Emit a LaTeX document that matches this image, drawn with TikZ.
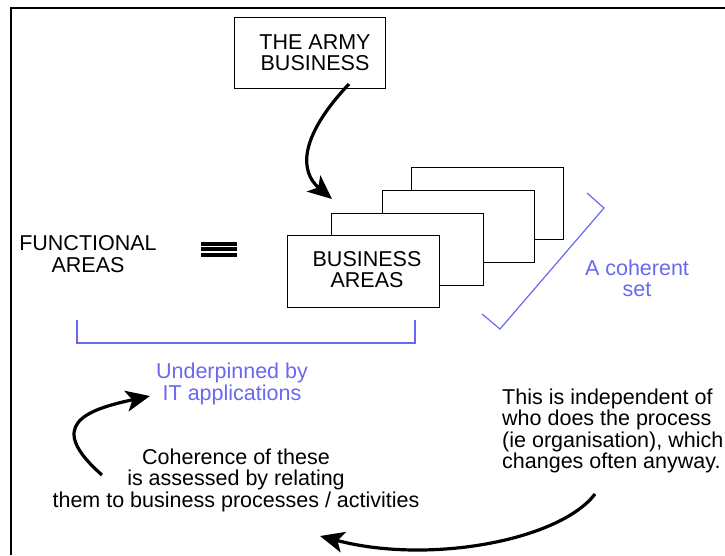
\documentclass[tikz,border=0pt]{standalone}
\usepackage{fontspec}
\setmainfont{Liberation Sans}
\usetikzlibrary{arrows.meta}
\definecolor{setblue}{RGB}{104,104,240}
\tikzset{
  txt/.style={font=\fontsize{21.5}{21.5}\selectfont, align=center, inner sep=0pt},
  bluetxt/.style={txt, text=setblue},
  card/.style={draw=black, line width=1.3pt, fill=white, minimum width=152pt, minimum height=72pt, anchor=north west, inner sep=0pt},
  bigarrow/.style={line width=3.2pt, -{Stealth[length=24pt,width=21pt,inset=6pt]}},
  bluebracket/.style={draw=setblue, line width=1.2pt},
  frameline/.style={line width=2.2pt}
}
\begin{document}
\begin{tikzpicture}[x=1pt,y=-1pt]
\useasboundingbox (0,0) rectangle (725,555);
% frame
\draw[frameline] (11,555) -- (11,8) -- (726,8);
% army box
\node[card, minimum width=151pt, minimum height=71pt] (armybox) at (234,17) {};
\node[txt] (army) at (315,52.5) {THE ARMY\\BUSINESS};
% stacked business area cards
\node[card] (b4) at (411,167) {};
\node[card] (b3) at (382,190) {};
\node[card] (b2) at (331,213) {};
\node[card] (b1) at (287,235) {};
\node[txt] (bizareas) at (367,269.5) {BUSINESS\\AREAS};
% functional areas
\node[txt] (func) at (88,254) {FUNCTIONAL\\AREAS};
% equivalence sign
\foreach \yy in {243.5,249,254.5}{\draw[line width=4pt] (201,\yy) -- (237,\yy);}
% arrow from army to cards
\coordinate (a1s) at (349,84);
\coordinate (a1e) at (332,199);
\draw[bigarrow] (a1s) .. controls (298,138) and (300,172) .. (a1e);
% blue check bracket
\draw[bluebracket] (587,193) -- (604,208) -- (500,329) -- (482,314);
\node[bluetxt] (coherent) at (637,278.5) {A coherent\\set};
% blue bracket under
\draw[bluebracket] (77,320) -- (77,343) -- (415,343) -- (415,320);
\node[bluetxt] (under) at (232,384) {Underpinned by\\IT applications};
% coherence text
\node[txt] (coh) at (236,480) {Coherence of these\\is assessed by relating\\them to business processes / activities};
% right text
\node[txt, align=left, anchor=west] (indep) at (502,431) {This is independent of\\who does the process\\(ie organisation), which\\changes often anyway.};
% arrows bottom
\coordinate (a2s) at (102,475);
\coordinate (a2e) at (150,396);
\draw[bigarrow] (a2s) .. controls (45,425) and (85,410) .. (a2e);
\coordinate (a3s) at (595,494);
\coordinate (a3e) at (320,536);
\draw[bigarrow] (a3s) .. controls (560,540) and (430,565) .. (a3e);
\end{tikzpicture}
\end{document}
